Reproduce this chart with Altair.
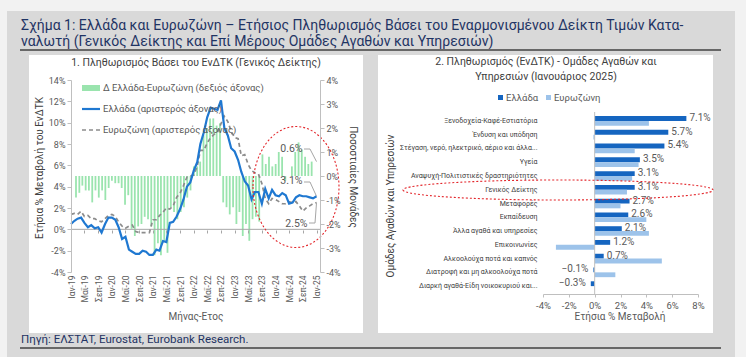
import altair as alt
import pandas as pd

# ---------------- data ----------------
months = [d.strftime("%Y-%m-%d") for d in pd.date_range("2019-01-01", "2025-01-01", freq="MS")]

greece = [
    0.5, 0.8, 1.0, 1.1, 0.6, 0.2, 0.4, 0.1, 0.2, -0.3, 0.5, 1.1,
    1.1, 0.9, 0.2, -0.9, -0.7, -1.9, -2.1, -2.3, -2.3, -2.0, -2.1, -2.4,
    -2.4, -1.9, -2.0, -1.1, -1.2, 0.6, 0.7, 1.2, 1.9, 2.8, 4.0, 4.4,
    5.5, 6.3, 8.0, 9.1, 10.5, 11.4, 11.3, 11.2, 12.1, 9.5, 8.8, 7.6,
    7.3, 6.5, 5.4, 4.5, 4.1, 2.8, 3.5, 3.5, 2.4, 3.8, 2.9, 3.7,
    3.2, 3.1, 3.4, 3.2, 2.4, 2.5, 3.0, 3.2, 3.1, 3.1, 3.0, 2.9,
    3.1,
]
eurozone = [
    1.4, 1.5, 1.4, 1.7, 1.2, 1.3, 1.0, 1.0, 0.8, 0.7, 1.0, 1.3,
    1.4, 1.2, 0.7, 0.3, 0.1, 0.3, 0.4, -0.2, -0.3, -0.3, -0.3, -0.3,
    0.9, 0.9, 1.3, 1.6, 2.0, 1.9, 2.2, 3.0, 3.4, 4.1, 4.9, 5.0,
    5.1, 5.9, 7.4, 7.4, 8.1, 8.6, 8.9, 9.1, 9.9, 10.6, 10.1, 9.2,
    8.6, 8.5, 6.9, 7.0, 6.1, 5.5, 5.3, 5.2, 4.3, 2.9, 2.4, 2.9,
    2.8, 2.6, 2.4, 2.4, 2.6, 2.5, 2.6, 2.2, 1.7, 2.0, 2.2, 2.4,
    2.5,
]
diff_gr_ez = [
    -0.9, -0.7, -0.4, -0.6, -0.6, -1.1, -0.6, -0.9, -0.6, -1.0, -0.5, -0.2,
    -0.3, -0.3, -0.5, -1.2, -0.8, -2.2, -2.5, -2.1, -2.0, -1.7, -1.8, -2.1,
    -3.3, -2.8, -3.3, -2.7, -3.2, -1.3, -1.5, -1.8, -1.5, -1.3, -0.9, -0.6,
    0.4, 0.4, 0.6, 1.7, 2.0, 2.4, 2.4, 2.1, 2.2, -1.1, -1.3, -1.6,
    -1.3, -2.0, -1.5, -2.5, -2.0, -2.7, -1.8, -1.7, -1.9, 0.9, 0.5, 0.8,
    0.4, 0.5, 1.0, 0.8, -0.2, 0.0, 0.4, 1.0, 1.4, 1.1, 0.8, 0.5,
    0.6,
]

categories = [
    "Ξενοδοχεία-Καφέ-Εστιατόρια",
    "Ένδυση και υπόδηση",
    "Στέγαση, νερό, ηλεκτρικό, αέριο και άλλα...",
    "Υγεία",
    "Αναψυχή-Πολιτιστικές δραστηριότητες",
    "Γενικός Δείκτης",
    "Μεταφορές",
    "Εκπαίδευση",
    "Άλλα αγαθά και υπηρεσίες",
    "Επικοινωνίες",
    "Αλκοολούχα ποτά και καπνός",
    "Διατροφή και μη αλκοολούχα ποτά",
    "Διαρκή αγαθά-Είδη νοικοκυριού και...",
]
greece_jan25 = [7.1, 5.7, 5.4, 3.5, 3.1, 3.1, 2.7, 2.6, 2.1, 1.2, 0.7, -0.1, -0.3]
eurozone_jan25 = [4.2, -0.1, 3.1, 3.4, 2.9, 2.5, 2.0, 4.0, 4.2, -3.0, 5.2, 1.6, 0.0]
series_names = ["Ελλάδα", "Ευρωζώνη"]

left_ticks = list(range(-4, 16, 2))
right_ticks = list(range(-4, 5, 1))
bar_ticks = [-4, -2, 0, 2, 4, 6, 8]

# ---------------- styling ----------------
FONT = "Roboto"
W, H = 746, 357
NAVY = "#1f3464"
GREY_TXT = "#595959"
AXIS_GREY = "#bfbfbf"
BLUE = "#1f78d1"
GREEN = "#6fd98c"
EZ_GREY = "#8c8c8c"
DARK_BAR = "#1565c0"
LIGHT_BAR = "#9dc3ea"
RED = "#e3262b"

ts = pd.DataFrame({"date": months, "gr": greece, "ez": eurozone, "diff": diff_gr_ez})
last = ts.iloc[[-1]].reset_index(drop=True)
one = pd.DataFrame({"k": [0]})


def ms(s):
    return int(pd.Timestamp(s, tz="UTC").value // 10**6)


x_time = alt.Scale(type="utc", domain=[ms("2019-01-01"), ms("2025-02-01")], range=[71, 320])
y_left = alt.Scale(domain=[-4, 14], range=[272, 80], nice=False, zero=False)
y_right = alt.Scale(domain=[-4, 4], range=[272, 80], nice=False, zero=False)
x_bar = alt.Scale(domain=[-4, 8], range=[543, 698], nice=False, zero=False)
y_cat = alt.Scale(domain=categories, range=[114, 293], paddingInner=0.3, paddingOuter=0.15)
off_scale = alt.Scale(domain=series_names)

tick_vals = [ms(d) for d in months[::4]]
month_expr = ("(utcmonth(datum.value)==0 ? 'Ιαν' : utcmonth(datum.value)==4 ? 'Μαϊ' : 'Σεπ')"
              " + '-' + utcFormat(datum.value, '%y')")


def rect(x, x2, y, y2, color, **kw):
    return alt.Chart(one).mark_rect(color=color, **kw).encode(
        x=alt.value(x), x2=alt.value(x2), y=alt.value(y), y2=alt.value(y2))


def txt(s, x, y, size, color=GREY_TXT, align="left", angle=0, weight="normal"):
    return alt.Chart(one).mark_text(
        text=s, align=align, baseline="middle", fontSize=size, color=color,
        font=FONT, angle=angle, fontWeight=weight).encode(x=alt.value(x), y=alt.value(y))


def hline(x, x2, y, color, width=1.0, dash=None):
    kw = dict(color=color, strokeWidth=width)
    if dash:
        kw["strokeDash"] = dash
    return alt.Chart(one).mark_rule(**kw).encode(x=alt.value(x), x2=alt.value(x2), y=alt.value(y))


def ellipse(cx, cy, rx, ry):
    big = max(rx, ry)
    ax, ay = rx / big, ry / big
    path = (f"M {-ax},0 A {ax},{ay} 0 1,0 {ax},0 A {ax},{ay} 0 1,0 {-ax},0 Z")
    return alt.Chart(one).mark_point(
        shape=path, size=(2 * big) ** 2, filled=False, stroke=RED, strokeWidth=1.1,
        strokeDash=[2, 2], opacity=1).encode(x=alt.value(cx), y=alt.value(cy))


# ---------------- frame & titles ----------------
frame = [
    rect(7, 735, 11, 357, "#d9d9d9"),
    rect(29, 363, 55, 333, "white"),
    rect(378, 713, 55, 333, "white"),
    txt("Σχήμα 1: Ελλάδα και Ευρωζώνη – Ετήσιος Πληθωρισμός Βάσει του Εναρμονισμένου Δείκτη Τιμών Κατα-",
        21, 26, 14, NAVY),
    txt("ναλωτή (Γενικός Δείκτης και Επί Μέρους Ομάδες Αγαθών και Υπηρεσιών)", 21, 42, 14, NAVY),
    hline(20, 721, 50, "#404040", 1.5),
    txt("Πηγή: ΕΛΣΤΑΤ, Eurostat, Eurobank Research.", 21, 340, 11.5, NAVY),
    hline(20, 721, 348, "#404040", 1.5),
]

common_axis = dict(zindex=2, labelFont=FONT, grid=False, title=None)

# ---------------- left panel ----------------
bars = alt.Chart(ts).mark_bar(size=1.8, color=GREEN, opacity=0.7).encode(
    x=alt.X("date:T", scale=x_time, axis=None),
    y=alt.Y("diff:Q", scale=y_right, axis=alt.Axis(
        orient="right", offset=-(W - 320), values=right_ticks, labelExpr="datum.value + '%'",
        domainColor=AXIS_GREY, tickColor=AXIS_GREY, tickSize=4,
        labelColor=GREY_TXT, labelFontSize=9, labelPadding=2, **common_axis)),
)

zero_left = alt.Chart(one).mark_rule(color="#a6a6a6", strokeWidth=1).encode(
    y=alt.Y(datum=0, scale=y_left, axis=None), x=alt.value(71), x2=alt.value(320))

ez_line = alt.Chart(ts).mark_line(color=EZ_GREY, strokeWidth=1.7, strokeDash=[4, 3]).encode(
    x=alt.X("date:T", scale=x_time, axis=alt.Axis(
        orient="bottom", offset=-(H - 272), values=tick_vals, labelExpr=month_expr,
        labelAngle=270, labelFlush=False, labelOverlap=False, domain=False, ticks=False,
        labelColor=GREY_TXT, labelFontSize=8.5, labelPadding=3, **common_axis)),
    y=alt.Y("ez:Q", scale=y_left, axis=None),
)

gr_line = alt.Chart(ts).mark_line(color=BLUE, strokeWidth=2.2).encode(
    x=alt.X("date:T", scale=x_time, axis=alt.Axis(
        orient="bottom", offset=-(H - 230), values=tick_vals, labels=False, domain=False,
        ticks=True, tickSize=3, tickColor="#a6a6a6", **common_axis)),
    y=alt.Y("gr:Q", scale=y_left, axis=alt.Axis(
        orient="left", offset=-71, values=left_ticks, labelExpr="datum.value + '%'",
        domainColor=AXIS_GREY, tickColor=AXIS_GREY, tickSize=4,
        labelColor=GREY_TXT, labelFontSize=9, labelPadding=2, **common_axis)),
)

lab_style = dict(fontSize=10.5, color=GREY_TXT, font=FONT, baseline="middle")
ann_diff = alt.Chart(last).mark_text(align="right", dx=-14, dy=-13, **lab_style).transform_calculate(
    lbl="format(datum.diff, '.1f') + '%'").encode(
    x=alt.X("date:T", scale=x_time, axis=None), y=alt.Y("diff:Q", scale=y_right, axis=None),
    text="lbl:N")
ann_gr = alt.Chart(last).mark_text(align="right", dx=-14, dy=-15, **lab_style).transform_calculate(
    lbl="format(datum.gr, '.1f') + '%'").encode(
    x=alt.X("date:T", scale=x_time, axis=None), y=alt.Y("gr:Q", scale=y_left, axis=None),
    text="lbl:N")
ann_ez = alt.Chart(last).mark_text(align="right", dx=-9, dy=21, **lab_style).transform_calculate(
    lbl="format(datum.ez, '.1f') + '%'").encode(
    x=alt.X("date:T", scale=x_time, axis=None), y=alt.Y("ez:Q", scale=y_left, axis=None),
    text="lbl:N")

lead_kw = dict(color="#a6a6a6", strokeWidth=1)
lead_diff = alt.Chart(last).mark_rule(**lead_kw).encode(
    x=alt.X("date:T", scale=x_time, axis=None), y=alt.Y("diff:Q", scale=y_right, axis=None),
    x2=alt.value(310), y2=alt.value(149))
lead_gr = alt.Chart(last).mark_rule(**lead_kw).encode(
    x=alt.X("date:T", scale=x_time, axis=None), y=alt.Y("gr:Q", scale=y_left, axis=None),
    x2=alt.value(310), y2=alt.value(182))
lead_ez = alt.Chart(last).mark_rule(**lead_kw).encode(
    x=alt.X("date:T", scale=x_time, axis=None), y=alt.Y("ez:Q", scale=y_left, axis=None),
    x2=alt.value(315), y2=alt.value(223))
lead_h = [hline(304, 310, 149, "#a6a6a6"), hline(304, 310, 182, "#a6a6a6"),
          hline(309, 315, 223, "#a6a6a6")]

left_text = [
    txt("1. Πληθωρισμός Βάσει του ΕνΔΤΚ (Γενικός Δείκτης)", 196, 63, 10.5, "#404040", align="center"),
    txt("Ετήσια % Μεταβολή του ΕνΔΤΚ", 40, 168, 10, "#404040", align="center", angle=270),
    txt("Ποσοστιαίες Μονάδες", 353, 177, 10, "#404040", align="center", angle=90),
    txt("Μήνας-Ετος", 196, 317, 10, GREY_TXT, align="center"),
]

left_legend = [
    rect(82, 100, 85, 91, GREEN, opacity=0.7),
    txt("Δ Ελλάδα-Ευρωζώνη (δεξιός άξονας)", 103, 88, 9.5),
    hline(82, 100, 109, BLUE, 2.2),
    txt("Ελλάδα (αριστερός άξονας)", 103, 109, 9.5),
    hline(82, 100, 130, EZ_GREY, 1.7, [4, 3]),
    txt("Ευρωζώνη (αριστερός άξονας)", 103, 130, 9.5),
]

# ---------------- right panel ----------------
rdf = pd.DataFrame({
    "cat": categories * 2,
    "series": [series_names[0]] * len(categories) + [series_names[1]] * len(categories),
    "value": greece_jan25 + eurozone_jan25,
})
gdf = pd.DataFrame({"cat": categories, "gr": greece_jan25})

hbars = alt.Chart(rdf).mark_bar().encode(
    y=alt.Y("cat:N", sort=categories, scale=y_cat, axis=alt.Axis(
        orient="left", offset=-543, domain=False, ticks=False,
        labelPadding=6, labelFontSize=7, labelColor="#404040", labelLimit=400, **common_axis)),
    x=alt.X("value:Q", scale=x_bar, axis=alt.Axis(
        orient="bottom", offset=-(H - 294), values=bar_ticks, labelExpr="datum.value + '%'",
        domainColor=AXIS_GREY, tickColor=AXIS_GREY, tickSize=3,
        labelColor=GREY_TXT, labelFontSize=9.5, labelFlush=False, labelPadding=3, **common_axis)),
    yOffset=alt.YOffset("series:N", scale=off_scale),
    color=alt.Color("series:N", scale=alt.Scale(domain=series_names, range=[DARK_BAR, LIGHT_BAR]),
                    legend=None),
)

zero_right = alt.Chart(one).mark_rule(color=AXIS_GREY, strokeWidth=1).encode(
    x=alt.X(datum=0, scale=x_bar, axis=None), y=alt.value(112), y2=alt.value(294))

val_style = dict(fontSize=10, color=GREY_TXT, font=FONT, baseline="middle", dy=-3)
lab_pos = alt.Chart(gdf).mark_text(align="left", dx=3, **val_style).transform_filter(
    "datum.gr >= 0").transform_calculate(lbl="format(datum.gr, '.1f') + '%'").encode(
    y=alt.Y("cat:N", sort=categories, scale=y_cat, axis=None),
    x=alt.X("gr:Q", scale=x_bar, axis=None), text="lbl:N")
lab_neg = alt.Chart(gdf).mark_text(align="right", dx=-5, **val_style).transform_filter(
    "datum.gr < 0").transform_calculate(lbl="format(datum.gr, '.1f') + '%'").encode(
    y=alt.Y("cat:N", sort=categories, scale=y_cat, axis=None),
    x=alt.X("gr:Q", scale=x_bar, axis=None), text="lbl:N")

right_text = [
    txt("2. Πληθωρισμός (ΕνΔΤΚ) - Ομάδες Αγαθών και", 546, 62, 10.5, "#404040", align="center"),
    txt("Υπηρεσιών (Ιανουάριος 2025)", 546, 77, 10.5, "#404040", align="center"),
    rect(498, 503, 95, 100, DARK_BAR),
    txt("Ελλάδα", 506, 98, 9.5),
    rect(546, 551, 95, 100, LIGHT_BAR),
    txt("Ευρωζώνη", 554, 98, 9.5),
    txt("Ομάδες Αγαθών και Υπηρεσιών", 391, 206, 10, "#404040", align="center", angle=270),
    txt("Ετήσια % Μεταβολή", 620, 317, 10, GREY_TXT, align="center"),
]

ellipses = [ellipse(296, 187, 43, 60.5), ellipse(558, 190, 155, 10)]

layers = (frame + [bars, zero_left, ez_line, gr_line] + left_legend + left_text
          + [lead_diff, lead_gr, lead_ez] + lead_h + [ann_diff, ann_gr, ann_ez]
          + [hbars, zero_right, lab_pos, lab_neg] + right_text + ellipses)

chart = alt.layer(*layers).resolve_scale(
    x="independent", y="independent"
).resolve_axis(
    x="independent", y="independent"
).properties(
    width=W, height=H, padding=0, autosize=alt.AutoSizeParams(type="none"),
    background="#f2f2f2",
).configure_view(strokeWidth=0)

chart.save("out.html", embed_options={"renderer": "svg", "actions": False})
